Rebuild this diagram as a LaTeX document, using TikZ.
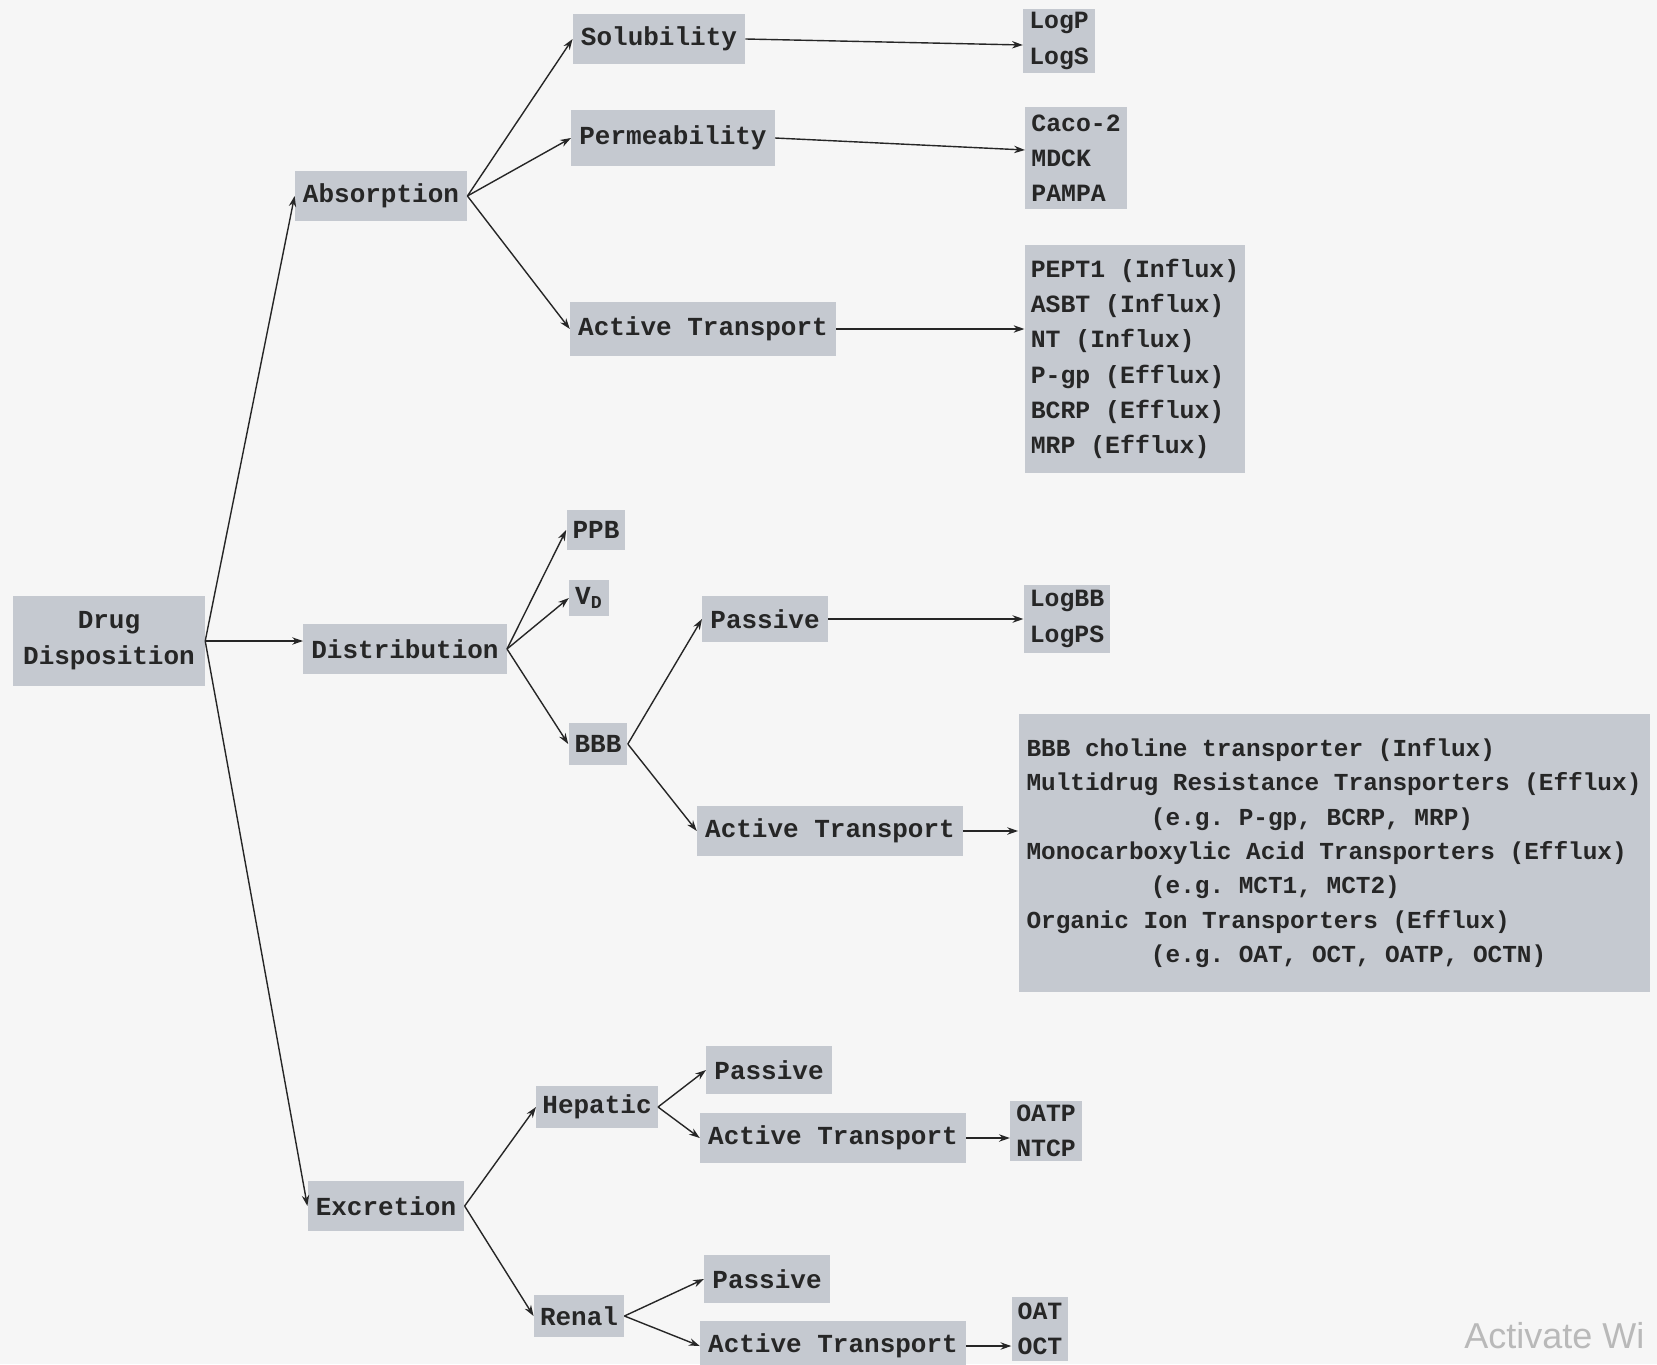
\documentclass[tikz,border=0pt]{standalone}
\usepackage{fontspec}
\setmonofont{Liberation Mono}
\newfontfamily\winfont{Liberation Sans}
\usetikzlibrary{arrows.meta}
\definecolor{BoxGray}{HTML}{C5C9D0}
\definecolor{InkDark}{HTML}{262626}
\definecolor{PaperTint}{HTML}{F6F6F6}

\begin{document}
\begin{tikzpicture}[
  x=0.5pt,y=-0.5pt,
  every node/.style={font=\ttfamily\bfseries\fontsize{13}{18}\selectfont,text=InkDark},
  box/.style={fill=BoxGray,inner xsep=4pt,inner ysep=2pt,minimum height=25pt},
  tag/.style={box,inner xsep=3pt,minimum height=20pt},
  listbox/.style={fill=BoxGray,align=left,inner xsep=3pt,inner ysep=2pt,font=\ttfamily\bfseries\fontsize{12.4}{17.6}\selectfont},
  arr/.style={-{Stealth[length=1.9mm,width=1.3mm]},line width=0.7pt,color=InkDark}
]
\fill[PaperTint] (0,0) rectangle (1657,1364);
\useasboundingbox (0,0) rectangle (1657,1364);

\node[box,align=center,inner xsep=5pt,minimum height=45pt] (dd) at (109,641) {Drug\\Disposition};
\node[box] (abs) at (381,196) {Absorption};
\node[box] (dist) at (405,649) {Distribution};
\node[box] (exc) at (386,1206) {Excretion};

\node[box] (sol) at (659,39) {Solubility};
\node[box,minimum height=28pt] (perm) at (673,138) {Permeability};
\node[box,minimum height=27pt] (atabs) at (703,329) {Active Transport};
\node[listbox] (logp) at (1059,41) {LogP\\LogS};
\node[listbox,inner ysep=4pt] (caco) at (1076,158) {Caco-2\\MDCK\\PAMPA};
\node[listbox,inner ysep=7pt] (pept) at (1135,359) {PEPT1 (Influx)\\ASBT (Influx)\\NT (Influx)\\P-gp (Efflux)\\BCRP (Efflux)\\MRP (Efflux)};

\node[tag] (ppb) at (596,530) {PPB};
\node[tag,minimum height=18pt] (vd) at (589,598) {V\textsubscript{D}};
\node[tag,minimum height=21pt] (bbb) at (598,744) {BBB};
\node[box,minimum height=23pt] (pasbbb) at (765,619) {Passive};
\node[box] (atbbb) at (830,831) {Active Transport};
\node[listbox,inner ysep=3pt] (logbb) at (1067,619) {LogBB\\LogPS};
\node[listbox,inner xsep=4pt,inner ysep=12pt,font=\ttfamily\bfseries\fontsize{12.2}{17.2}\selectfont] (bbbtr) at (1334,853)
  {BBB choline transporter (Influx)\\
   Multidrug Resistance Transporters (Efflux)\\
   \hspace*{5.1em}(e.g. P-gp, BCRP, MRP)\\
   Monocarboxylic Acid Transporters (Efflux)\\
   \hspace*{5.1em}(e.g. MCT1, MCT2)\\
   Organic Ion Transporters (Efflux)\\
   \hspace*{5.1em}(e.g. OAT, OCT, OATP, OCTN)};

\node[tag,minimum height=21pt] (hep) at (597,1107) {Hepatic};
\node[box,minimum height=24pt] (pashep) at (769,1070) {Passive};
\node[box] (athep) at (833,1138) {Active Transport};
\node[listbox,inner ysep=2pt] (oatp) at (1046,1131) {OATP\\NTCP};
\node[tag,minimum height=21pt] (ren) at (579,1316) {Renal};
\node[box,minimum height=24pt] (pasren) at (767,1279) {Passive};
\node[box] (atren) at (833,1346) {Active Transport};
\node[listbox,inner ysep=3pt] (oat) at (1040,1329) {OAT\\OCT};

\node[font=\winfont\fontsize{18}{22}\selectfont,text=gray!55,anchor=west,inner sep=0pt] (wm) at (1464,1336) {Activate Wi};

\draw[arr] (dd.east) -- (abs.west);
\draw[arr] (dd.east) -- (dd.east -| dist.west);
\draw[arr] (dd.east) -- (exc.west);

\draw[arr] (abs.east) -- (sol.west);
\draw[arr] (abs.east) -- (perm.west);
\draw[arr] (abs.east) -- (atabs.west);
\draw[arr] (sol.east) -- ([yshift=-2pt]logp.west);
\draw[arr] (perm.east) -- ([yshift=4pt]caco.west);
\draw[arr] (atabs.east) -- (atabs.east -| pept.west);

\draw[arr] (dist.east) -- (ppb.west);
\draw[arr] (dist.east) -- (vd.west);
\draw[arr] (dist.east) -- (bbb.west);
\draw[arr] (bbb.east) -- (pasbbb.west);
\draw[arr] (bbb.east) -- (atbbb.west);
\draw[arr] (pasbbb.east) -- (logbb.west);
\draw[arr] (atbbb.east) -- (atbbb.east -| bbbtr.west);

\draw[arr] (exc.east) -- (hep.west);
\draw[arr] (exc.east) -- (ren.west);
\draw[arr] (hep.east) -- (pashep.west);
\draw[arr] (hep.east) -- (athep.west);
\draw[arr] (athep.east) -- (athep.east -| oatp.west);
\draw[arr] (ren.east) -- (pasren.west);
\draw[arr] (ren.east) -- (atren.west);
\draw[arr] (atren.east) -- (atren.east -| oat.west);
\end{tikzpicture}
\end{document}
